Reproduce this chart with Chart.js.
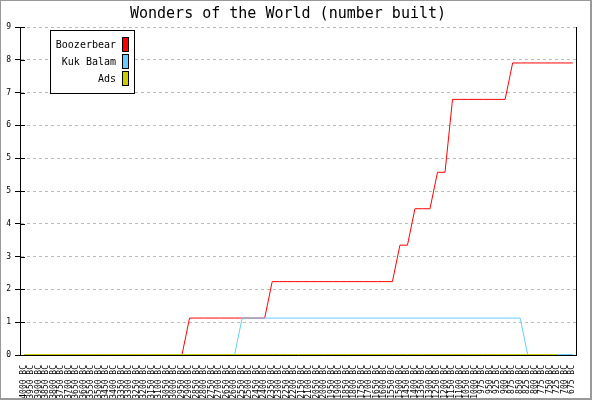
<!DOCTYPE html>
<html>
<head>
<meta charset="utf-8">
<title>Wonders of the World</title>
<script src="https://cdn.jsdelivr.net/npm/chart.js@4.4.1/dist/chart.umd.min.js"></script>
<style>
  body { margin: 0; background: #ffffff; }
  #wrap { width: 592px; height: 400px; }
</style>
</head>
<body>
<div id="wrap"><canvas id="wondersChart" width="592" height="400"></canvas></div>
<script>
// --- Data ---
const years = [
  "4000 BC", "3950 BC", "3900 BC", "3850 BC", "3800 BC", "3750 BC", "3700 BC", "3650 BC",
  "3600 BC", "3550 BC", "3500 BC", "3450 BC", "3400 BC", "3350 BC", "3300 BC", "3250 BC",
  "3200 BC", "3150 BC", "3100 BC", "3050 BC", "3000 BC", "2950 BC", "2900 BC", "2850 BC",
  "2800 BC", "2750 BC", "2700 BC", "2650 BC", "2600 BC", "2550 BC", "2500 BC", "2450 BC",
  "2400 BC", "2350 BC", "2300 BC", "2250 BC", "2200 BC", "2150 BC", "2100 BC", "2050 BC",
  "2000 BC", "1950 BC", "1900 BC", "1850 BC", "1800 BC", "1750 BC", "1700 BC", "1650 BC",
  "1600 BC", "1550 BC", "1500 BC", "1450 BC", "1400 BC", "1350 BC", "1300 BC", "1250 BC",
  "1200 BC", "1150 BC", "1100 BC", "1050 BC", "1000 BC", "975 BC", "950 BC", "925 BC",
  "900 BC", "875 BC", "850 BC", "825 BC", "800 BC", "775 BC", "750 BC", "725 BC",
  "700 BC", "675 BC"
];

const boozerbear = [
  0, 0, 0, 0, 0, 0, 0, 0, 0, 0, 0, 0, 0, 0, 0, 0, 0, 0, 0, 0, 0, 0,
  1, 1, 1, 1, 1, 1, 1, 1, 1, 1, 1,
  2, 2, 2, 2, 2, 2, 2, 2, 2, 2, 2, 2, 2, 2, 2, 2, 2,
  3, 3,
  4, 4, 4,
  5, 5,
  7, 7, 7, 7, 7, 7, 7, 7,
  8, 8, 8, 8, 8, 8, 8, 8, 8
];

const kukBalam = [
  0, 0, 0, 0, 0, 0, 0, 0, 0, 0, 0, 0, 0, 0, 0, 0, 0, 0, 0, 0, 0, 0, 0, 0, 0, 0, 0, 0, 0,
  1, 1, 1, 1, 1, 1, 1, 1, 1, 1, 1, 1, 1, 1, 1, 1, 1, 1, 1, 1,
  1, 1, 1, 1, 1, 1, 1, 1, 1, 1, 1, 1, 1, 1, 1, 1, 1, 1,
  0, 0, 0, 0, 0, 0, 0
];

const ads = [
  0, 0, 0, 0, 0, 0, 0, 0, 0, 0, 0, 0, 0, 0, 0, 0, 0, 0, 0, 0, 0, 0, 0, 0,
  0, 0, 0, 0, 0, 0, 0, 0, 0, 0, 0, 0, 0, 0, 0, 0, 0, 0, 0, 0, 0, 0, 0, 0,
  0, 0, 0, 0, 0, 0, 0, 0, 0, 0, 0, 0, 0, 0, 0, 0, 0, 0, 0, 0, 0, 0, 0, 0
];

// y ticks sit every 0.9, labels are rounded like the original
const yTickValues = [0, 0.9, 1.8, 2.7, 3.6, 4.5, 5.4, 6.3, 7.2, 8.1, 9];
const yTickLabels = ["0", "1", "2", "3", "4", "5", "5", "6", "7", "8", "9"];

const MONO = "'DejaVu Sans Mono', monospace";

// --- Half-pixel shift so the 1px lines come out crisp ---
const crispLines = {
  id: "crispLines",
  beforeDatasetsDraw(chart) {
    chart.ctx.save();
    chart.ctx.translate(0.5, -0.5);
  },
  afterDatasetsDraw(chart) {
    chart.ctx.restore();
  }
};

// --- Legend box (text on the left, swatch on the right) ---
const boxLegend = {
  id: "boxLegend",
  afterDraw(chart) {
    const c = chart.ctx;
    c.save();
    c.fillStyle = "#ffffff";
    c.fillRect(50, 30, 84, 64);
    c.strokeStyle = "#000000";
    c.lineWidth = 1;
    c.strokeRect(50.5, 30.5, 84, 63);
    c.font = "10px " + MONO;
    c.textAlign = "right";
    c.textBaseline = "middle";
    chart.data.datasets.forEach((ds, i) => {
      const y = 37 + i * 17;
      c.fillStyle = "#000000";
      c.fillText(ds.label, 116, y + 8);
      c.fillStyle = ds.borderColor;
      c.fillRect(122, y, 7, 15);
      c.strokeRect(122.5, y + 0.5, 6, 14);
    });
    c.restore();
  }
};

// --- Frame, right border and inner tick stubs ---
const frame = {
  id: "frame",
  afterDraw(chart) {
    const c = chart.ctx;
    const a = chart.chartArea;
    const yScale = chart.scales.y;
    c.save();
    c.strokeStyle = "#000000";
    c.lineWidth = 1;
    c.beginPath();
    c.moveTo(Math.round(a.right) + 0.5, a.top);
    c.lineTo(Math.round(a.right) + 0.5, a.bottom + 1);
    yTickValues.forEach(v => {
      const y = Math.round(yScale.getPixelForValue(v)) + 0.5;
      c.moveTo(a.left, y);
      c.lineTo(a.left + 5, y);
    });
    c.stroke();
    c.strokeStyle = "#999999";
    c.strokeRect(0.5, 0.5, 590, 398);
    c.beginPath();
    c.moveTo(591.5, 0);
    c.lineTo(591.5, 400);
    c.moveTo(0, 399.5);
    c.lineTo(592, 399.5);
    c.stroke();
    c.restore();
  }
};

const ctx = document.getElementById("wondersChart").getContext("2d");

new Chart(ctx, {
  type: "line",
  data: {
    labels: years,
    datasets: [
      { label: "Boozerbear", data: boozerbear, borderColor: "#ff0000", order: 3, clip: 4 },
      { label: "Kuk Balam", data: kukBalam, borderColor: "#66ccff", order: 2, clip: 4 },
      { label: "Ads", data: ads, borderColor: "#cccc00", order: 1, clip: 4 }
    ]
  },
  options: {
    responsive: false,
    animation: false,
    devicePixelRatio: 1,
    layout: { padding: { left: 0, right: 16, top: 0, bottom: 0 } },
    elements: {
      line: { borderWidth: 1, tension: 0, fill: false },
      point: { radius: 0, hoverRadius: 0 }
    },
    plugins: {
      legend: { display: false },
      tooltip: { enabled: false },
      title: {
        display: true,
        text: "Wonders of the World (number built)",
        color: "#000000",
        font: { family: MONO, size: 15, weight: "normal" },
        padding: { top: 5, bottom: 4 }
      }
    },
    scales: {
      x: {
        offset: true,
        grid: { display: false, drawTicks: false },
        border: { display: true, color: "#000000", width: 1 },
        ticks: {
          autoSkip: false,
          minRotation: 90,
          maxRotation: 90,
          padding: 10,
          color: "#000000",
          font: { family: MONO, size: 8 }
        },
        afterFit(scale) { scale.height = 45; }
      },
      y: {
        min: 0,
        max: 9,
        afterBuildTicks(scale) {
          scale.ticks = yTickValues.map(v => ({ value: v }));
        },
        grid: {
          color: "#bbbbbb",
          tickColor: "#000000",
          tickLength: 5,
          tickBorderDash: [],
          drawOnChartArea: true
        },
        border: { display: true, color: "#000000", width: 1, dash: [3, 3] },
        ticks: {
          padding: 4,
          color: "#000000",
          font: { family: MONO, size: 8 },
          callback: (value, index) => yTickLabels[index]
        },
        afterFit(scale) { scale.width = 20; }
      }
    }
  },
  plugins: [crispLines, boxLegend, frame]
});
</script>
</body>
</html>
